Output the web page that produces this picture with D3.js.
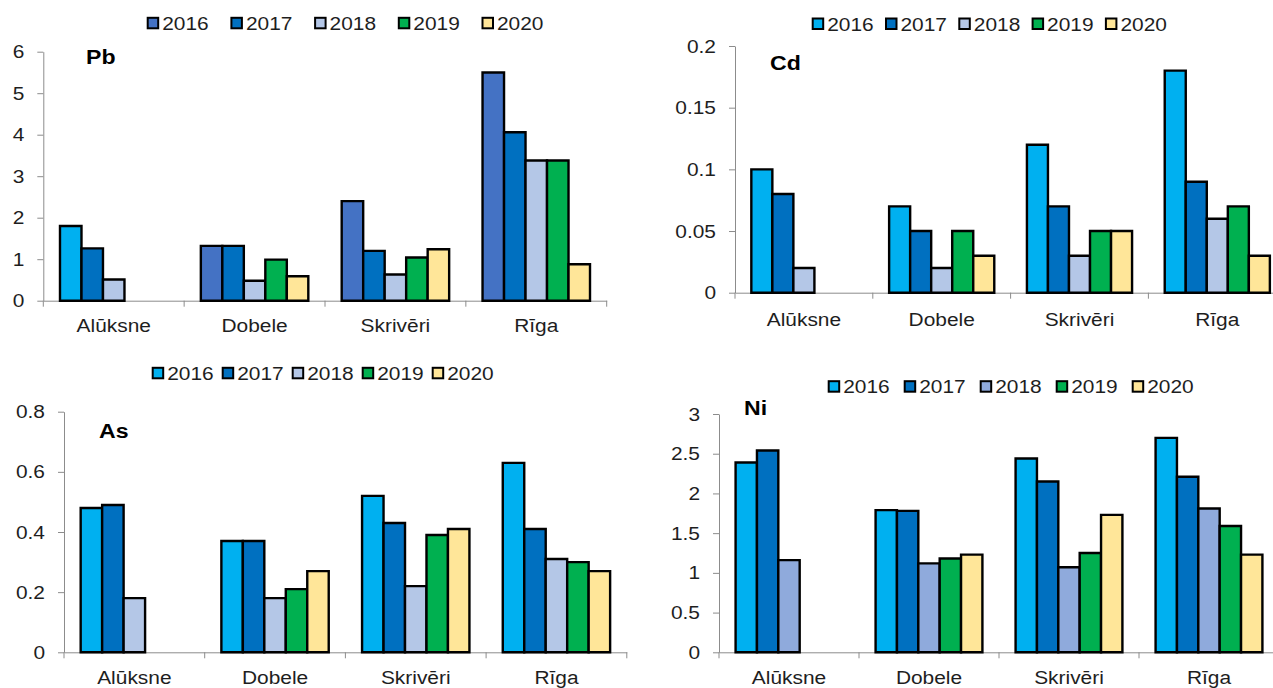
<!DOCTYPE html>
<html>
<head>
<meta charset="utf-8">
<script src="https://cdn.jsdelivr.net/npm/d3@7"></script>
<style>
    body { margin: 0; background: #fff; }
    svg { display: block; font-family: Arial, "Liberation Sans", sans-serif; }
</style>
</head>
<body>
<div id="chart"></div>
<script>
// DATA ---------------------------------------------------------------------
const sites = ["Alūksne", "Dobele", "Skrivēri", "Rīga"];
const years = ["2016", "2017", "2018", "2019", "2020"];

// rows = sites, columns = years (null = no measurement)
const pbValues = [
    [1.8, 1.26, 0.51, null, null],
    [1.32, 1.32, 0.48, 0.99, 0.59],
    [2.4, 1.2, 0.63, 1.04, 1.24],
    [5.5, 4.06, 3.38, 3.38, 0.88],
];
const cdValues = [
    [0.1, 0.08, 0.02, null, null],
    [0.07, 0.05, 0.02, 0.05, 0.03],
    [0.12, 0.07, 0.03, 0.05, 0.05],
    [0.18, 0.09, 0.06, 0.07, 0.03],
];
const asValues = [
    [0.48, 0.49, 0.18, null, null],
    [0.37, 0.37, 0.18, 0.21, 0.27],
    [0.52, 0.43, 0.22, 0.39, 0.41],
    [0.63, 0.41, 0.31, 0.30, 0.27],
];
const niValues = [
    [2.39, 2.54, 1.16, null, null],
    [1.79, 1.78, 1.12, 1.18, 1.23],
    [2.44, 2.15, 1.07, 1.25, 1.73],
    [2.7, 2.21, 1.81, 1.59, 1.23],
];

const pbTicks = [0, 1, 2, 3, 4, 5, 6];
const cdTicks = [0, 0.05, 0.1, 0.15, 0.2];
const asTicks = [0, 0.2, 0.4, 0.6, 0.8];
const niTicks = [0, 0.5, 1, 1.5, 2, 2.5, 3];

// COLORS -------------------------------------------------------------------
const baseColors = ["#00B0F0", "#0070C0", "#B4C7E7", "#00B050", "#FFE699"];
const pbColors = ["#4472C4", "#0070C0", "#B4C7E7", "#00B050", "#FFE699"];
const niColors = ["#00B0F0", "#0070C0", "#8FAADC", "#00B050", "#FFE699"];

const STRETCH = 1.1; // text in the source is slightly wide

class BarPanel {
    constructor(svg, name, values, ticks, colors, layout) {
        this.svg = svg;
        this.data = { values, ticks };
        this.settings = Object.assign({ name, colors, labelOffset: 25, overrides: {} }, layout);
        this.elements = { scales: {} };
    }

    render() {
        this.createScales();
        this.drawAxes();
        this.drawBars();
        this.drawLegend();
        this.drawTitle();
    }

    createScales() {
        const { axisX, catW, y0, yTop } = this.settings;
        const { ticks } = this.data;

        this.elements.scales.x0 = d3.scaleBand()
            .domain(sites)
            .range([axisX, axisX + catW * sites.length])
            .paddingInner(0.237)
            .paddingOuter(0.1185);

        this.elements.scales.x1 = d3.scaleBand()
            .domain(years)
            .range([0, this.elements.scales.x0.bandwidth()]);

        this.elements.scales.y = d3.scaleLinear()
            .domain([0, d3.max(ticks)])
            .range([y0, yTop]);
    }

    stretchText(sel) {
        sel.each(function () {
            const t = d3.select(this);
            const x = +t.attr("x") || 0;
            t.attr("x", x / STRETCH).attr("transform", `scale(${STRETCH},1)`);
        });
    }

    drawAxes() {
        const { axisX, y0, catW, labelOffset } = this.settings;
        const { x0, y } = this.elements.scales;
        const g = this.svg.append("g").attr("class", `panel-${this.settings.name}`);
        this.elements.g = g;

        // y axis
        const yAxis = g.append("g")
            .attr("transform", `translate(${axisX},0)`)
            .call(d3.axisLeft(y)
                .tickValues(this.data.ticks)
                .tickSize(6)
                .tickSizeOuter(0)
                .tickPadding(13)
                .tickFormat(d3.format("~g")));
        yAxis.select(".domain").attr("stroke", "#8c8c8c");
        yAxis.selectAll(".tick line").attr("stroke", "#8c8c8c");
        yAxis.selectAll("text")
            .attr("fill", "#1e1e1e")
            .style("font-size", "19px");
        this.stretchText(yAxis.selectAll("text"));

        // x axis
        const xAxis = g.append("g")
            .attr("transform", `translate(0,${y0})`)
            .call(d3.axisBottom(x0).tickSize(0).tickSizeOuter(0));
        xAxis.select(".domain").attr("stroke", "#8c8c8c");
        xAxis.selectAll("text")
            .attr("y", labelOffset)
            .attr("dy", "0.35em")
            .attr("fill", "#1e1e1e")
            .style("font-size", "19px");
        this.stretchText(xAxis.selectAll("text"));

        // category boundary ticks
        xAxis.selectAll(".bound")
            .data(d3.range(sites.length + 1))
            .enter()
            .append("line")
            .attr("class", "bound")
            .attr("x1", i => axisX + i * catW)
            .attr("x2", i => axisX + i * catW)
            .attr("y1", 0)
            .attr("y2", 6)
            .attr("stroke", "#8c8c8c");
    }

    drawBars() {
        const { x0, x1, y } = this.elements.scales;
        const { colors, overrides } = this.settings;
        const { values } = this.data;

        const groups = this.elements.g.append("g")
            .attr("class", "bars")
            .selectAll(".site")
            .data(sites)
            .enter()
            .append("g")
            .attr("class", "site")
            .attr("transform", d => `translate(${x0(d)},0)`);

        // fill first, black outline drawn as a separate path on top
        const bars = groups.selectAll("g.bar")
            .data((site, si) => years.map((yr, yi) => ({ site, si, yr, yi, v: values[si][yi] }))
                .filter(d => d.v !== null))
            .enter()
            .append("g")
            .attr("class", "bar");

        bars.append("rect")
            .attr("x", d => x1(d.yr))
            .attr("y", d => y(d.v))
            .attr("width", x1.bandwidth())
            .attr("height", d => y(0) - y(d.v))
            .attr("fill", d => overrides[`${d.si}-${d.yi}`] || colors[d.yi]);

        bars.append("path")
            .attr("d", d => {
                const x = x1(d.yr), w = x1.bandwidth(), top = y(d.v), bot = y(0);
                return `M${x},${bot}V${top}H${x + w}V${bot}Z`;
            })
            .attr("fill", "none")
            .attr("stroke", "#000")
            .attr("stroke-width", 2.4);
    }

    drawLegend() {
        const { legendX, legendStep, legendY, colors } = this.settings;
        const legend = this.elements.g.selectAll(".legend")
            .data(years)
            .enter()
            .append("g")
            .attr("class", "legend")
            .attr("transform", (d, i) => `translate(${legendX + i * legendStep},${legendY})`);

        legend.append("rect")
            .attr("x", 1)
            .attr("y", -5.5)
            .attr("width", 10.5)
            .attr("height", 10.5)
            .attr("fill", (d, i) => colors[i])
            .attr("stroke", "#000")
            .attr("stroke-width", 2);

        legend.append("text")
            .attr("x", 15.5)
            .attr("dy", "0.35em")
            .attr("fill", "#1e1e1e")
            .style("font-size", "19px")
            .text(d => d);
        this.stretchText(legend.selectAll("text"));
    }

    drawTitle() {
        const { name, titleX, titleY } = this.settings;
        const t = this.elements.g.append("g")
            .attr("transform", `translate(${titleX},${titleY})`)
            .append("text")
            .attr("dy", "0.35em")
            .style("font-size", "21px")
            .style("font-weight", "bold")
            .attr("fill", "#000")
            .text(name);
        this.stretchText(t);
    }
}

const svg = d3.select("#chart")
    .append("svg")
    .attr("width", 1273)
    .attr("height", 688);

new BarPanel(svg, "Pb", pbValues, pbTicks, pbColors, {
    axisX: 43.3, y0: 300.7, yTop: 51.7, catW: 140.85,
    legendX: 146.7, legendStep: 83.7, legendY: 23.3,
    titleX: 86, titleY: 57,
    overrides: { "0-0": "#00B0F0" },
}).render();

new BarPanel(svg, "Cd", cdValues, cdTicks, baseColors, {
    axisX: 735, y0: 292.7, yTop: 46, catW: 137.8,
    legendX: 811.7, legendStep: 73.3, legendY: 24,
    titleX: 770, titleY: 63, labelOffset: 27,
}).render();

new BarPanel(svg, "As", asValues, asTicks, baseColors, {
    axisX: 64, y0: 652.3, yTop: 411.7, catW: 140.7,
    legendX: 151.7, legendStep: 70, legendY: 373.3,
    titleX: 99, titleY: 430.7,
}).render();

new BarPanel(svg, "Ni", niValues, niTicks, niColors, {
    axisX: 719, y0: 652.3, yTop: 414, catW: 140,
    legendX: 827.7, legendStep: 76, legendY: 386.7,
    titleX: 744, titleY: 407.7,
}).render();
</script>
</body>
</html>
